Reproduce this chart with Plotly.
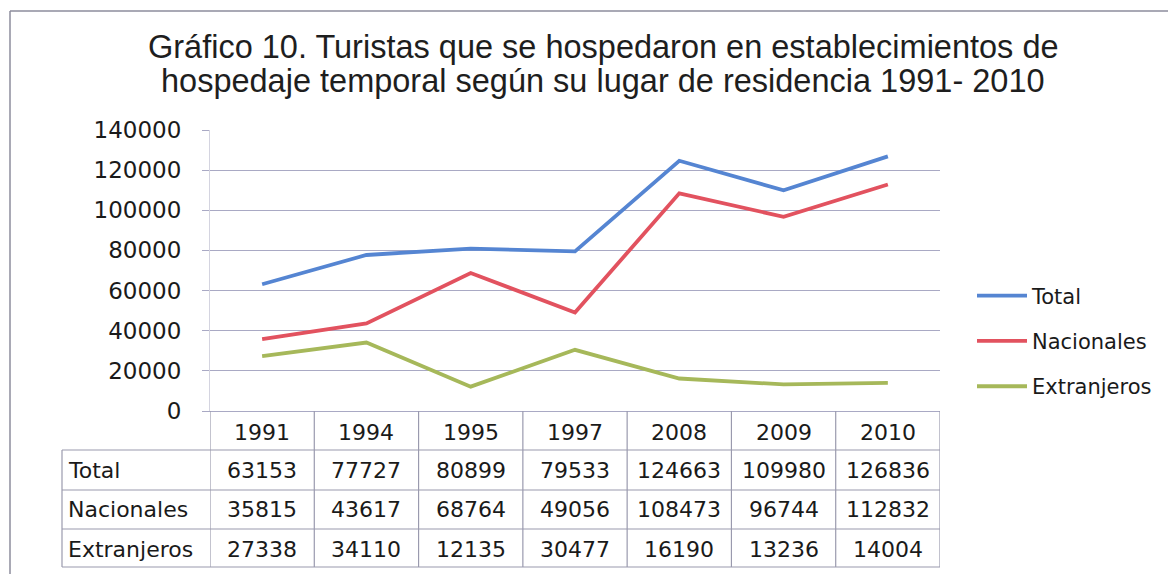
import plotly.graph_objects as go

years = ["1991", "1994", "1995", "1997", "2008", "2009", "2010"]
series_names = ["Total", "Nacionales", "Extranjeros"]
total = [63153, 77727, 80899, 79533, 124663, 109980, 126836]
nacionales = [35815, 43617, 68764, 49056, 108473, 96744, 112832]
extranjeros = [27338, 34110, 12135, 30477, 16190, 13236, 14004]
y_ticks = [0, 20000, 40000, 60000, 80000, 100000, 120000, 140000]
title_lines = ["Gráfico 10. Turistas que se hospedaron en establecimientos de",
               "hospedaje temporal según su lugar de residencia 1991- 2010"]

series = [total, nacionales, extranjeros]
colors = ["#5585d2", "#e2525f", "#a6b85a"]

OFF = 8  # page body margin
W, H = 1176 - OFF, 574 - OFF
# plot area in reference (page) pixel coordinates
L, R, T, B = 210, 940, 130, 411

def px_x(px):
    return (px - L) / (R - L)

def px_y(py):
    return (B - py) / (B - T)

fig = go.Figure()
for name, vals, c in zip(series_names, series, colors):
    fig.add_trace(go.Scatter(
        x=list(range(len(years))), y=vals, name=name, mode="lines",
        line=dict(color=c, width=3.8),
        legendgroup=name,
    ))

grid_c = "#a9a9c4"
tbl_c = "#9a9aae"
text_c = "#1a1a1a"
FAM = "DejaVu Sans, Verdana, sans-serif"
tfont = dict(family=FAM, size=22, color=text_c)

# title (two lines, Arial-like)
for py, line in zip([47, 81], title_lines):
    fig.add_annotation(x=px_x(603), y=px_y(py), xref="paper", yref="paper",
                       text=line, showarrow=False,
                       font=dict(family="Liberation Sans, Arial, sans-serif", size=32.5, color="#1e1e1e"),
                       xanchor="center", yanchor="middle")

row_lines = [450, 490, 529, 567]
row_centers = [470, 509, 549]
header_center = 432

for i, yr in enumerate(years):
    fig.add_annotation(x=i, y=px_y(header_center), xref="x", yref="paper",
                       text=yr, showarrow=False, font=tfont,
                       xanchor="center", yanchor="middle")
for r, (name, vals) in enumerate(zip(series_names, series)):
    fig.add_annotation(x=px_x(66), y=px_y(row_centers[r]), xref="paper", yref="paper",
                       text=name, showarrow=False, font=tfont,
                       xanchor="left", yanchor="middle")
    for i, v in enumerate(vals):
        fig.add_annotation(x=i, y=px_y(row_centers[r]), xref="x", yref="paper",
                           text=str(v), showarrow=False, font=tfont,
                           xanchor="center", yanchor="middle")

for py in row_lines:
    fig.add_shape(type="line", xref="paper", yref="paper",
                  x0=px_x(62), x1=1, y0=px_y(py), y1=px_y(py),
                  line=dict(color=tbl_c, width=1.2))
for i in range(len(years) + 1):
    fig.add_shape(type="line", xref="x", yref="paper",
                  x0=i - 0.5, x1=i - 0.5, y0=0, y1=px_y(row_lines[-1]),
                  line=dict(color=tbl_c, width=1.2))
fig.add_shape(type="line", xref="paper", yref="paper",
              x0=px_x(62), x1=px_x(62), y0=px_y(row_lines[0]), y1=px_y(row_lines[-1]),
              line=dict(color=tbl_c, width=1.2))

# outer frame (left and top edges)
fig.add_shape(type="line", xref="paper", yref="paper",
              x0=px_x(10), x1=px_x(10), y0=px_y(11), y1=px_y(580),
              line=dict(color="#8c8c9c", width=1.5))
fig.add_shape(type="line", xref="paper", yref="paper",
              x0=px_x(10), x1=px_x(1180), y0=px_y(11), y1=px_y(11),
              line=dict(color="#8c8c9c", width=1.5))

fig.update_layout(
    width=W, height=H,
    margin=dict(l=L - OFF, r=1176 - R, t=T - OFF, b=574 - B),
    paper_bgcolor="white", plot_bgcolor="white",
    xaxis=dict(range=[-0.5, len(years) - 0.5],
               showticklabels=False, showgrid=False, ticks="",
               showline=True, linecolor=grid_c, linewidth=1, zeroline=False),
    yaxis=dict(range=[0, 140000], tickvals=y_ticks,
               ticktext=[str(v) for v in y_ticks],
               showgrid=True, gridcolor=grid_c, gridwidth=1,
               showline=True, linecolor="#d4d4e0", linewidth=1,
               ticks="outside", ticklen=7, tickcolor=grid_c,
               ticklabelstandoff=16,
               tickfont=dict(family=FAM, size=23, color=text_c), zeroline=False),
    legend=dict(x=px_x(972), y=px_y(341), xanchor="left", yanchor="middle",
                font=dict(family=FAM, size=21, color=text_c),
                tracegroupgap=15, itemwidth=50,
                bgcolor="rgba(0,0,0,0)"),
    showlegend=True,
)

fig.write_html("out.html")
